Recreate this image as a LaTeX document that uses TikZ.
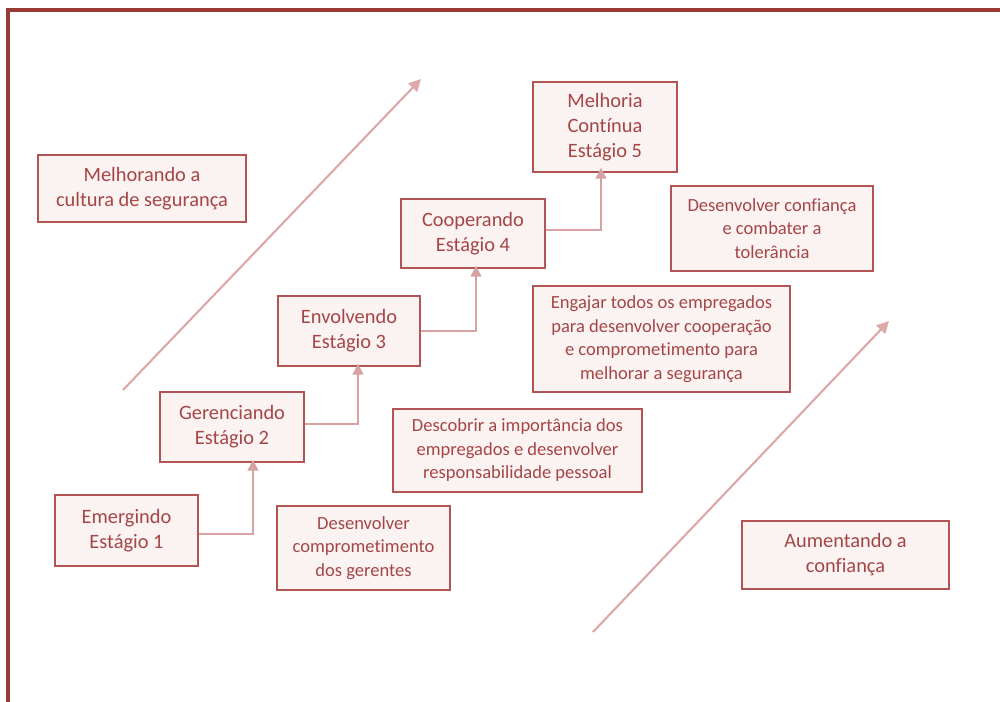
\documentclass[tikz,border=0pt]{standalone}
\usepackage{fontspec}
\setmainfont{Carlito}[Ligatures=NoCommon]
\usetikzlibrary{arrows.meta,calc}
\definecolor{framered}{HTML}{9A3A35}
\definecolor{boxline}{HTML}{B35454}
\definecolor{boxfill}{HTML}{FBF2F2}
\definecolor{boxtext}{HTML}{A54646}
\definecolor{linkline}{HTML}{D8A2A2}
\definecolor{trendline}{HTML}{DDA8A8}
\tikzset{
  stagebox/.style={draw=boxline, line width=1.3pt, fill=boxfill, text=boxtext,
    align=center, inner sep=2pt,
    font=\fontsize{15.3pt}{18.7pt}\selectfont},
  notebox/.style={stagebox, font=\fontsize{13.9pt}{17.6pt}\selectfont},
  link/.style={draw=linkline, line width=1.5pt,
    -{Triangle[length=8pt,width=8pt]}},
  trend/.style={draw=trendline, line width=1.6pt,
    -{Triangle[length=9pt,width=9pt]}}
}
\begin{document}
\begin{tikzpicture}[x=0.75pt,y=-0.75pt]
\useasboundingbox (0,0) rectangle (1000,702);
% outer frame (top and left edges)
\draw[framered, line width=2.3pt] (8,702) -- (8,10) -- (1000,10);

% diagonal trend arrows
\coordinate (t1s) at (123,390);
\coordinate (t1e) at (421,79);
\coordinate (t2s) at (593,632);
\coordinate (t2e) at (889,321);
\draw[trend] (t1s) -- (t1e);
\draw[trend] (t2s) -- (t2e);

% stage boxes
\node[stagebox, minimum width={208*0.75pt}, minimum height={67*0.75pt}] (mel) at (142,188.5) {Melhorando a\\cultura de segurança};
\node[stagebox, minimum width={143*0.75pt}, minimum height={71*0.75pt}] (e1) at (126.5,530.5) {Emergindo\\Estágio 1};
\node[stagebox, minimum width={144*0.75pt}, minimum height={70*0.75pt}] (e2) at (232,427) {Gerenciando\\Estágio 2};
\node[stagebox, minimum width={142*0.75pt}, minimum height={70*0.75pt}] (e3) at (349,331) {Envolvendo\\Estágio 3};
\node[stagebox, minimum width={144*0.75pt}, minimum height={69*0.75pt}] (e4) at (473,233.5) {Cooperando\\Estágio 4};
\node[stagebox, minimum width={144*0.75pt}, minimum height={90*0.75pt}] (e5) at (605,127) {Melhoria\\Contínua\\Estágio 5};
\node[stagebox, minimum width={207*0.75pt}, minimum height={68*0.75pt}] (aum) at (845.5,555) {Aumentando a\\confiança};

% description boxes
\node[notebox, minimum width={202*0.75pt}, minimum height={85*0.75pt}] (conf) at (772,228.5) {Desenvolver confiança\\e combater a\\tolerância};
\node[notebox, minimum width={257*0.75pt}, minimum height={106*0.75pt}] (eng) at (661.5,339) {Engajar todos os empregados\\para desenvolver cooperação\\e comprometimento para\\melhorar a segurança};
\node[notebox, minimum width={249*0.75pt}, minimum height={83*0.75pt}] (desc) at (517.5,450.5) {Descobrir a importância dos\\empregados e desenvolver\\responsabilidade pessoal};
\node[notebox, minimum width={173*0.75pt}, minimum height={84*0.75pt}] (comp) at (363.5,548) {Desenvolver\\comprometimento\\dos gerentes};

% step connectors
\draw[link] ([yshift=-3*0.75pt]e1.east) -| ([xshift=21*0.75pt,yshift=3*0.75pt]e2.south);
\draw[link] ([yshift=3*0.75pt]e2.east) -| ([xshift=9*0.75pt,yshift=3*0.75pt]e3.south);
\draw[link] (e3.east) -| ([xshift=3*0.75pt,yshift=3*0.75pt]e4.south);
\draw[link] ([yshift=3*0.75pt]e4.east) -| ([xshift=-4*0.75pt,yshift=5*0.75pt]e5.south);
\end{tikzpicture}
\end{document}
